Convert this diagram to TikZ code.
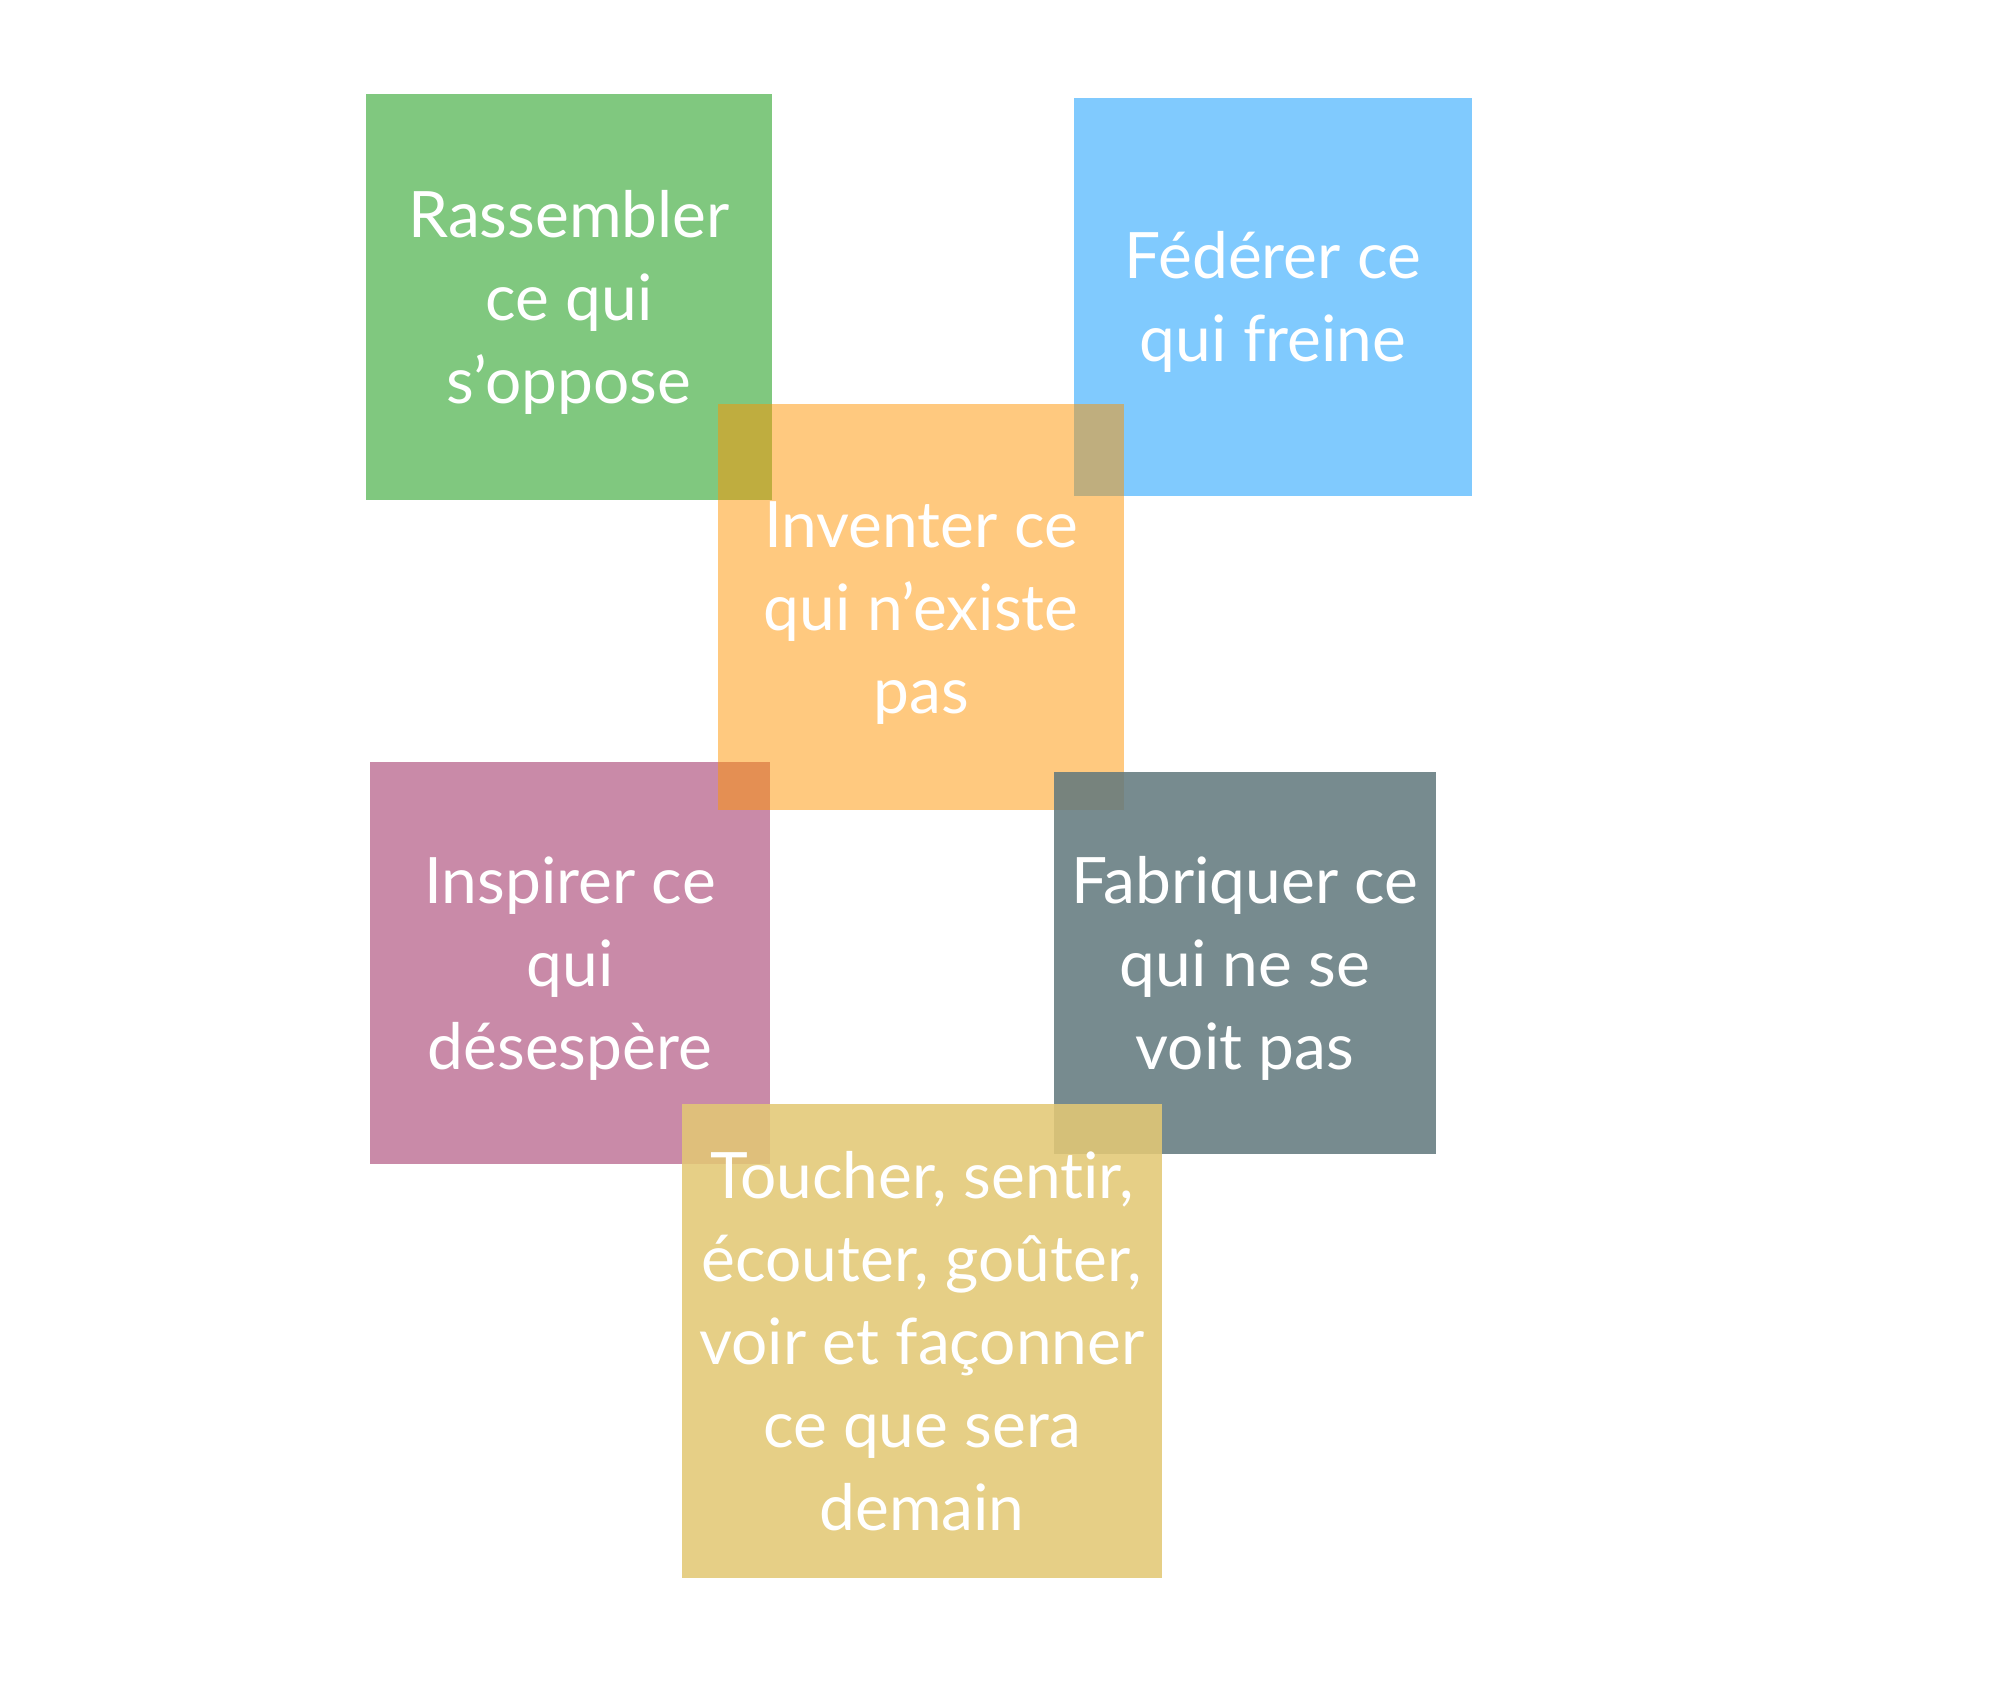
\documentclass[tikz,border=0pt]{standalone}
\usepackage{fontspec}
\setmainfont{Lato}[Ligatures=NoCommon]
\definecolor{cgreen}{RGB}{128,200,127}
\definecolor{cblue}{RGB}{128,202,254}
\definecolor{cpink}{RGB}{201,138,168}
\definecolor{corange}{RGB}{255,148,0}
\definecolor{cgrey}{RGB}{97,120,125}
\definecolor{cyellow}{RGB}{227,200,117}
\newcommand{\firststrut}{\rule{0pt}{15.7pt}}
\newcommand{\laststrut}{\rule[-4pt]{0pt}{0pt}}
\begin{document}
\begin{tikzpicture}[x=0.25pt,y=-0.25pt,
  card/.style={rectangle, inner sep=0pt, outer sep=0pt, draw=none,
    text=white, text opacity=1, align=center,
    font=\fontsize{16}{20.75}\selectfont}]
\useasboundingbox (0,0) rectangle (2004,1694);
\fill[white] (0,0) rectangle (2004,1694);
\node[card, fill=cgreen, minimum width=101.5pt, minimum height=101.5pt] (green) at (569,297)
  {\firststrut Rassembler\\ce qui\\s’oppose\laststrut};
\node[card, fill=cblue, minimum width=99.5pt, minimum height=99.5pt] (blue) at (1273,297)
  {\firststrut Fédérer ce\\qui freine\laststrut};
\node[card, fill=cpink, minimum width=100pt, minimum height=100.5pt] (pink) at (570,963)
  {\firststrut Inspirer ce\\qui\\désespère\laststrut};
\node[card, fill=corange, fill opacity=0.5, minimum width=101.5pt, minimum height=101.5pt] (orange) at (921,607)
  {\firststrut Inventer ce\\qui n’existe\\pas\laststrut};
\node[card, fill=cgrey, fill opacity=0.86, minimum width=95.5pt, minimum height=95.5pt] (grey) at (1245,963)
  {\firststrut Fabriquer ce\\qui ne se\\voit pas\laststrut};
\node[card, fill=cyellow, fill opacity=0.87, minimum width=120pt, minimum height=118.5pt] (yellow) at (922,1341)
  {\firststrut Toucher, sentir,\\écouter, goûter,\\voir et façonner\\ce que sera\\demain\laststrut};
\end{tikzpicture}
\end{document}
